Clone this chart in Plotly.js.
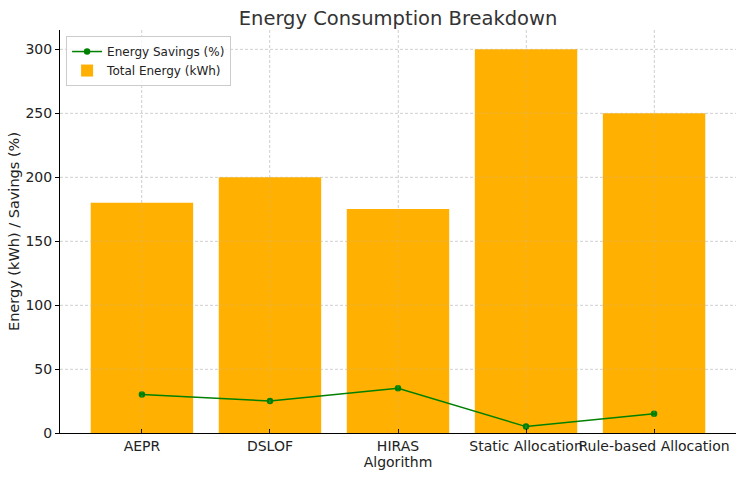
<!DOCTYPE html>
<html>
<head>
<meta charset="utf-8">
<script src="https://cdn.plot.ly/plotly-3.0.1.min.js"></script>
<style>html,body{margin:0;padding:0;background:#fff;}#chart{width:744px;height:480px;}</style>
</head>
<body>
<div id="chart"></div>
<script>
const categories = ["AEPR", "DSLOF", "HIRAS", "Static Allocation", "Rule-based Allocation"];
const totalEnergy = [180, 200, 175, 300, 250];
const energySavings = [30, 25, 35, 5, 15];
const yTicks = [0, 50, 100, 150, 200, 250, 300];

const font = "DejaVu Sans, sans-serif";
const xIdx = categories.map((_, i) => i);
const data = [
  {
    type: "bar", name: "Total Energy (kWh)",
    x: xIdx, y: totalEnergy, width: 0.8,
    marker: {color: "#FFB000", line: {width: 0}}
  },
  {
    type: "scatter", mode: "lines+markers", name: "Energy Savings (%)",
    x: xIdx, y: energySavings,
    line: {color: "#008000", width: 1.5},
    marker: {color: "#008000", size: 6.5}
  }
];
// faint grid drawn over bars (as in reference)
const gridShapes = [];
yTicks.slice(1).forEach(v => gridShapes.push({type: "line", xref: "paper", x0: 0, x1: 1, yref: "y", y0: v, y1: v,
  line: {color: "rgba(190,190,190,0.45)", width: 0.7, dash: "3px,2px"}, layer: "above"}));
xIdx.forEach(v => gridShapes.push({type: "line", yref: "paper", y0: 0, y1: 1, xref: "x", x0: v, x1: v,
  line: {color: "rgba(190,190,190,0.45)", width: 0.7, dash: "3px,2px"}, layer: "above"}));

const layout = {
  width: 744, height: 480,
  margin: {l: 60, r: 8, t: 30, b: 47},
  paper_bgcolor: "#fff", plot_bgcolor: "#fff",
  font: {family: font, color: "#222"},
  title: {text: "Energy Consumption Breakdown", font: {size: 19.5, color: "#333"}, x: 0.535, xanchor: "center", y: 0.963, yanchor: "middle"},
  showlegend: true,
  legend: {x: 0.009, y: 0.985, xanchor: "left", yanchor: "top", traceorder: "reversed",
           bgcolor: "rgba(255,255,255,0.8)", bordercolor: "#ccc", borderwidth: 1,
           font: {size: 12, color: "#222"}, tracegroupgap: 0, itemwidth: 30},
  shapes: gridShapes,
  xaxis: {
    range: [-0.64, 4.64], tickmode: "array", tickvals: xIdx, ticktext: categories,
    tickangle: 0,
    showline: true, linecolor: "#000", linewidth: 1, mirror: false,
    ticks: "inside", ticklen: 4, tickcolor: "#000",
    showgrid: true, gridcolor: "#d0d0d0", griddash: "3px,2px", gridwidth: 0.7,
    tickfont: {size: 14, color: "#222"},
    title: {text: "Algorithm", font: {size: 14, color: "#222"}, standoff: 2},
    zeroline: false
  },
  yaxis: {
    range: [0, 315], tickmode: "array", tickvals: yTicks,
    showline: true, linecolor: "#000", linewidth: 1,
    ticks: "outside", ticklen: 4, tickcolor: "#000",
    showgrid: true, gridcolor: "#d0d0d0", griddash: "3px,2px", gridwidth: 0.7,
    tickfont: {size: 14, color: "#222"},
    title: {text: "Energy (kWh) / Savings (%)", font: {size: 14.5, color: "#222"}, standoff: 2},
    zeroline: false
  }
};
Plotly.newPlot("chart", data, layout, {displayModeBar: false, staticPlot: true});
</script>
</body>
</html>
